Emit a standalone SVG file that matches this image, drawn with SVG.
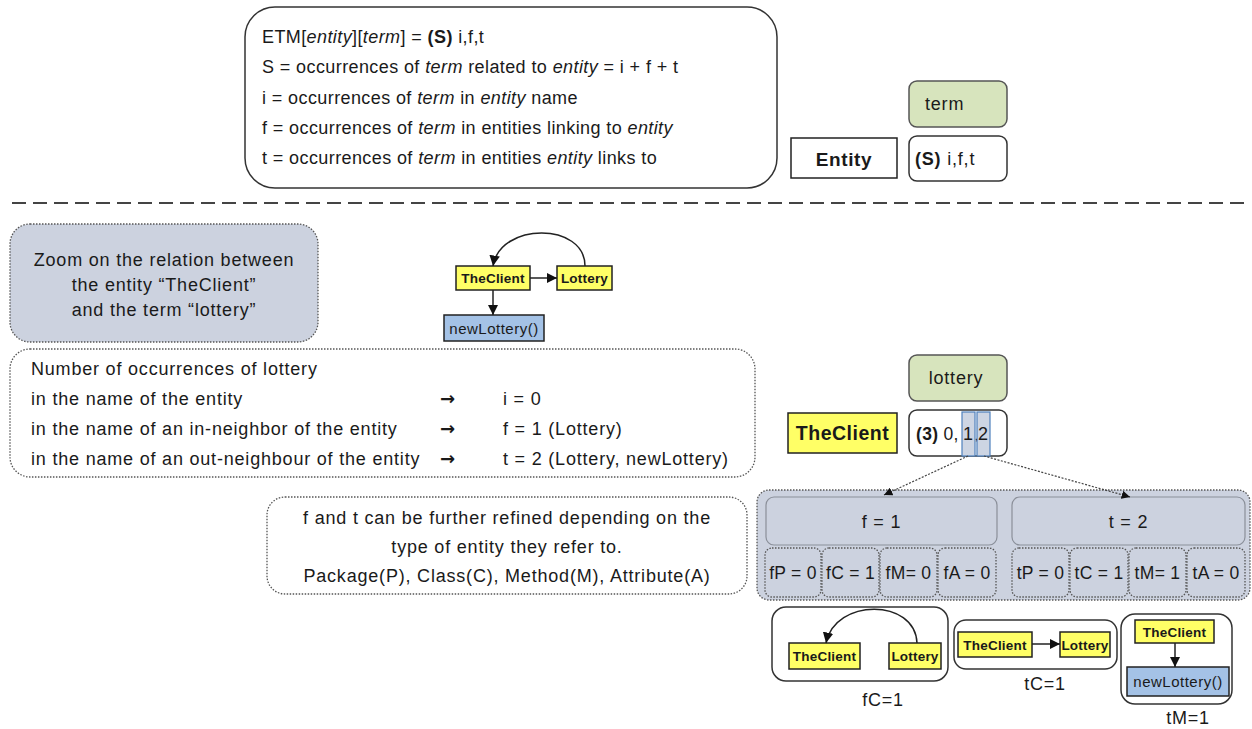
<svg xmlns="http://www.w3.org/2000/svg" width="1252" height="729" viewBox="0 0 1252 729">
  <style>
    text { font-family: "Liberation Sans", Arial, sans-serif; fill: #1a1a1a; }
    .t18 { font-size: 18px; letter-spacing: 0.8px; }
    .def { font-size: 18px; letter-spacing: 0.4px; }
    .cnt { font-size: 17.5px; letter-spacing: 0.3px; }
    .mid { text-anchor: middle; }
    .b { font-weight: bold; }
    .i { font-style: italic; }
    .arrow { font-family: "DejaVu Sans", sans-serif; font-size: 18px; font-weight: bold; }
    .solid { fill: #fff; stroke: #333; stroke-width: 1.5; }
    .dot { stroke: #555; stroke-width: 1.3; stroke-dasharray: 1.5 1.5; }
    .green { fill: #d7e4bd; stroke: #555; stroke-width: 1.5; }
    .slate { fill: #ccd2df; }
    .yellow { fill: #ffff66; stroke: #222; stroke-width: 1.5; }
    .blue { fill: #a4c2e6; stroke: #222; stroke-width: 1.5; }
    .edge { fill: none; stroke: #222; stroke-width: 1.5; }
    .link { fill: none; stroke: #444; stroke-width: 1.2; stroke-dasharray: 2 1.5; }
    .node { font-size: 13.5px; font-weight: bold; letter-spacing: 0.2px; }
    .meth { font-size: 15px; letter-spacing: 0.5px; }
  </style>
  <defs>
    <marker id="ah" viewBox="0 0 10 10" refX="10" refY="5" markerWidth="7" markerHeight="7" orient="auto">
      <path d="M0,0 L10,5 L0,10 z" fill="#111"/>
    </marker>
  </defs>

  <rect width="1252" height="729" fill="#fff"/>

  <!-- definition of the ETM cell -->
  <g id="definition">
    <rect x="245" y="7" width="532" height="181" rx="30" class="solid"/>
    <text class="def" x="262" y="43">ETM[<tspan class="i">entity</tspan>][<tspan class="i">term</tspan>] = <tspan class="b">(S)</tspan> i,f,t</text>
    <text class="def" x="262" y="73">S = occurrences of <tspan class="i">term</tspan> related to <tspan class="i">entity</tspan> = i + f + t</text>
    <text class="def" x="262" y="104">i = occurrences of <tspan class="i">term</tspan> in <tspan class="i">entity</tspan> name</text>
    <text class="def" x="262" y="134">f = occurrences of <tspan class="i">term</tspan> in entities linking to <tspan class="i">entity</tspan></text>
    <text class="def" x="262" y="164">t = occurrences of <tspan class="i">term</tspan> in entities <tspan class="i">entity</tspan> links to</text>
  </g>

  <g id="legend-term">
    <rect x="909" y="81" width="98" height="46" rx="8" class="green"/>
    <text class="t18" x="925" y="110">term</text>
  </g>
  <g id="legend-entity">
    <rect x="791" y="138" width="106" height="40" fill="#fff" stroke="#222" stroke-width="1.5"/>
    <text class="b mid" font-size="19" letter-spacing="0.6" x="844" y="166">Entity</text>
  </g>
  <g id="legend-cell">
    <rect x="909" y="136" width="98" height="45" rx="8" class="solid"/>
    <text class="t18" x="915" y="165"><tspan class="b">(S)</tspan> i,f,t</text>
  </g>

  <line x1="12" y1="203" x2="1250" y2="203" stroke="#444" stroke-width="2" stroke-dasharray="14 7"/>

  <!-- zoom caption -->
  <g id="zoom-caption">
    <rect x="10" y="224" width="308" height="118" rx="20" class="slate dot"/>
    <text class="t18 mid" x="164" y="266">Zoom on the relation between</text>
    <text class="t18 mid" x="164" y="291">the entity “TheClient”</text>
    <text class="t18 mid" x="164" y="316">and the term “lottery”</text>
  </g>

  <!-- small dependency graph -->
  <g id="g-theclient">
    <rect x="456" y="266" width="74" height="24" class="yellow"/>
    <text class="node mid" x="493" y="283">TheClient</text>
  </g>
  <g id="g-lottery">
    <rect x="557" y="266" width="55" height="24" class="yellow"/>
    <text class="node mid" x="584.500" y="283">Lottery</text>
  </g>
  <g id="g-newlottery">
    <rect x="444" y="315" width="100" height="26" class="blue"/>
    <text class="meth mid" x="494" y="333.500">newLottery()</text>
  </g>

  <!-- occurrences explanation -->
  <g id="occurrences">
    <rect x="10" y="349" width="745" height="128" rx="20" fill="#fff" class="dot"/>
    <text class="t18" x="31" y="375">Number of occurrences of lottery</text>
    <text class="t18" x="31" y="405">in the name of the entity</text>
    <text class="t18" x="31" y="435">in the name of an in-neighbor of the entity</text>
    <text class="t18" x="31" y="465">in the name of an out-neighbour of the entity</text>
    <text class="arrow" x="440" y="405">→</text>
    <text class="arrow" x="440" y="435">→</text>
    <text class="arrow" x="440" y="465">→</text>
    <text class="t18" x="503" y="405">i = 0</text>
    <text class="t18" x="503" y="435">f = 1 (Lottery)</text>
    <text class="t18" x="503" y="465">t = 2 (Lottery, newLottery)</text>
  </g>

  <g id="term-lottery">
    <rect x="909" y="355" width="98" height="46" rx="8" class="green"/>
    <text class="t18 mid" x="956" y="384">lottery</text>
  </g>
  <g id="entity-theclient">
    <rect x="788" y="413" width="109" height="40" fill="#ffff66" stroke="#222" stroke-width="1.5"/>
    <text class="b mid" font-size="19.5" letter-spacing="0.5" x="842.500" y="440">TheClient</text>
  </g>
  <g id="cell-value">
    <rect x="909" y="410" width="98" height="46" rx="8" class="solid"/>
    <rect x="962" y="412" width="13" height="44" fill="#cdd5e3" stroke="#4f81bd" stroke-width="1.2"/>
    <rect x="977" y="412" width="13" height="44" fill="#cdd5e3" stroke="#4f81bd" stroke-width="1.2"/>
    <text class="cnt" x="916" y="440"><tspan class="b">(3)</tspan> 0,</text>
    <text class="t18 mid" x="968.500" y="440">1</text>
    <text x="975" y="440" font-size="10">,</text>
    <text class="t18 mid" x="983.500" y="440">2</text>
  </g>

  <!-- refinement panel -->
  <g id="refinement">
    <rect x="757" y="490" width="493" height="110" rx="12" class="slate dot"/>
  </g>
  <g id="f-total">
    <rect x="766" y="497" width="231" height="48" rx="8" class="slate" stroke="#8a8f99" stroke-width="1.2"/>
    <text class="t18 mid" x="881.500" y="528">f = 1</text>
  </g>
  <g id="t-total">
    <rect x="1012" y="497" width="233" height="48" rx="8" class="slate" stroke="#8a8f99" stroke-width="1.2"/>
    <text class="t18 mid" x="1128.500" y="528">t = 2</text>
  </g>
  <g id="fP"><rect x="765" y="548" width="56" height="49" rx="7" class="slate dot"/><text class="cnt mid" x="793" y="579">fP = 0</text></g>
  <g id="fC"><rect x="822" y="548" width="57" height="49" rx="7" class="slate dot"/><text class="cnt mid" x="850.500" y="579">fC = 1</text></g>
  <g id="fM"><rect x="880" y="548" width="57" height="49" rx="7" class="slate dot"/><text class="cnt mid" x="908.500" y="579">fM= 0</text></g>
  <g id="fA"><rect x="938" y="548" width="58" height="49" rx="7" class="slate dot"/><text class="cnt mid" x="967" y="579">fA = 0</text></g>
  <g id="tP"><rect x="1012" y="548" width="57" height="49" rx="7" class="slate dot"/><text class="cnt mid" x="1040.500" y="579">tP = 0</text></g>
  <g id="tC"><rect x="1070" y="548" width="58" height="49" rx="7" class="slate dot"/><text class="cnt mid" x="1099" y="579">tC = 1</text></g>
  <g id="tM"><rect x="1129" y="548" width="57" height="49" rx="7" class="slate dot"/><text class="cnt mid" x="1157.500" y="579">tM= 1</text></g>
  <g id="tA"><rect x="1187" y="548" width="58" height="49" rx="7" class="slate dot"/><text class="cnt mid" x="1216" y="579">tA = 0</text></g>

  <g id="refine-note">
    <rect x="267" y="497" width="480" height="97" rx="18" fill="#fff" class="dot"/>
    <text class="t18 mid" x="507" y="524">f and t can be further refined depending on the</text>
    <text class="t18 mid" x="507" y="553">type of entity they refer to.</text>
    <text class="t18 mid" x="507" y="582">Package(P), Class(C), Method(M), Attribute(A)</text>
  </g>

  <!-- example: fC -->
  <g id="ex-fC">
    <rect x="772" y="607" width="176" height="74" rx="14" class="solid"/>
    <rect x="789" y="643" width="71" height="26" class="yellow"/>
    <text class="node mid" x="824.500" y="661">TheClient</text>
    <rect x="889" y="643" width="52" height="26" class="yellow"/>
    <text class="node mid" x="915" y="661">Lottery</text>
    <text class="t18 mid" x="883" y="706">fC=1</text>
  </g>
  <!-- example: tC -->
  <g id="ex-tC">
    <rect x="954" y="620" width="163" height="49" rx="12" class="solid"/>
    <rect x="958" y="632" width="74" height="25" class="yellow"/>
    <text class="node mid" x="995" y="650">TheClient</text>
    <rect x="1060" y="632" width="50" height="25" class="yellow"/>
    <text class="node mid" x="1085" y="650">Lottery</text>
    <text class="t18 mid" x="1045" y="690">tC=1</text>
  </g>
  <!-- example: tM -->
  <g id="ex-tM">
    <rect x="1121" y="614" width="111" height="90" rx="14" class="solid"/>
    <rect x="1135" y="620" width="79" height="23" class="yellow"/>
    <text class="node mid" x="1174.500" y="637">TheClient</text>
    <rect x="1127" y="667" width="102" height="29" class="blue"/>
    <text class="meth mid" x="1178" y="687">newLottery()</text>
    <text class="t18 mid" x="1188" y="724">tM=1</text>
  </g>

  <!-- connectors -->
  <g id="connectors">
    <path class="edge" d="M530,278 L557,278" marker-end="url(#ah)"/>
    <path class="edge" d="M493,290 L493,315" marker-end="url(#ah)"/>
    <path class="edge" d="M585,266 C585,222 500,222 493,266" marker-end="url(#ah)"/>
    <path class="link" d="M968,456 L884,495" marker-end="url(#ah)"/>
    <path class="link" d="M984,456 L1130,497" marker-end="url(#ah)"/>
    <path class="edge" d="M917,643 C915,598 835,598 826,643" marker-end="url(#ah)"/>
    <path class="edge" d="M1032,644 L1060,644" marker-end="url(#ah)"/>
    <path class="edge" d="M1175,643 L1175,667" marker-end="url(#ah)"/>
  </g>
</svg>
